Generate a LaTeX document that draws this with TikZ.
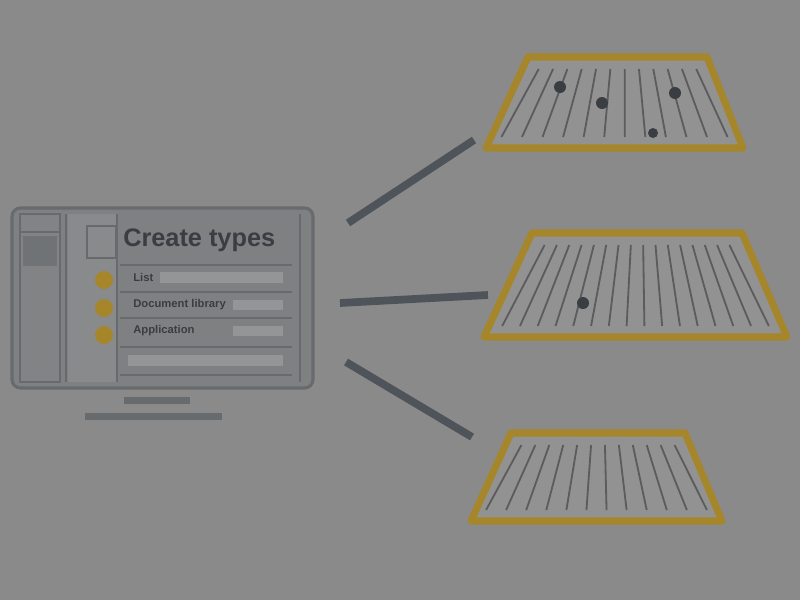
\documentclass[tikz,border=0pt]{standalone}
\usepackage{fontspec}
\setmainfont{Liberation Sans}
\usetikzlibrary{calc}

\definecolor{bggray}{RGB}{138,138,138}
\definecolor{framegray}{RGB}{104,107,110}
\definecolor{screengray}{RGB}{126,128,130}
\definecolor{bargray}{RGB}{148,149,150}
\definecolor{inkgray}{RGB}{58,62,66}
\definecolor{linkgray}{RGB}{78,84,90}
\definecolor{gold}{RGB}{166,134,42}
\definecolor{fieldgray}{RGB}{146,146,146}
\definecolor{seatgray}{RGB}{92,92,94}

% one stand of seats: name of the corners, number of rows
\newcommand{\seating}[2]{%
  \draw[field] (#1-tl) -- (#1-tr) -- (#1-br) -- (#1-bl) -- cycle;
  \foreach \i in {1,...,#2} {
    \pgfmathsetmacro\t{0.06+0.88*(\i-1)/(#2-1)}
    \draw[seat] ($(#1-tl)!\t!(#1-tr)+(0,12)$) -- ($(#1-bl)!\t!(#1-br)+(0,-11)$);
  }
}

\begin{document}
\begin{tikzpicture}[x=0.025cm,y=-0.025cm,
    frame/.style={draw=framegray, line width=2.2pt},
    thin frame/.style={draw=framegray, line width=1.2pt},
    bar/.style={fill=bargray},
    row/.style={draw=framegray, line width=1pt},
    link/.style={draw=linkgray, line width=5.5pt},
    field/.style={draw=gold, line width=5pt, line join=round, fill=fieldgray},
    seat/.style={draw=seatgray, line width=1.3pt},
    item/.style={anchor=west, inner sep=0pt, text=inkgray, font=\fontsize{8}{9}\selectfont\bfseries}]

    \fill[bggray] (0,0) rectangle (800,600);

    % monitor
    \draw[frame, rounded corners=6, fill=screengray] (12,208) rectangle (313,388);
    \draw[thin frame, fill=screengray!85!bargray] (20,214) rectangle (60,382);
    \fill[screengray!80!inkgray] (23,236) rectangle (57,266);
    \draw[thin frame] (20,232) -- (60,232);
    \fill[screengray!50!bargray] (68,214) rectangle (116,382);
    \draw[thin frame] (66,214) -- (66,382);
    \draw[thin frame] (117,214) -- (117,382);
    \draw[thin frame] (300,214) -- (300,382);
    \draw[thin frame, fill=screengray!50!bargray] (87,226) rectangle (116,258);

    \node[anchor=west, inner sep=0pt, text=inkgray, font=\fontsize{18}{20}\selectfont\bfseries]
        (title) at (123,240) {Create types};

    \foreach \y in {265,292,318,347,375}
        \draw[row] (120,\y) -- (292,\y);

    \fill[bar] (160,272) rectangle (283,283);
    \fill[bar] (233,300) rectangle (283,310);
    \fill[bar] (233,326) rectangle (283,336);
    \fill[bar] (128,355) rectangle (283,366);

    \node[item] (list) at (133,277) {List};
    \node[item] (doc) at (133,305) {Document library};
    \node[item] (app) at (133,331) {Application};

    \foreach \y in {280,308,335}
        \fill[gold] (104,\y) circle (9);

    \fill[framegray] (124,397) rectangle (190,404);
    \fill[framegray] (85,413) rectangle (222,420);

    % stands
    \coordinate (f1-tl) at (528,57);
    \coordinate (f1-tr) at (707,57);
    \coordinate (f1-br) at (743,148);
    \coordinate (f1-bl) at (486,148);
    \coordinate (f2-tl) at (532,233);
    \coordinate (f2-tr) at (742,233);
    \coordinate (f2-br) at (787,337);
    \coordinate (f2-bl) at (484,337);
    \coordinate (f3-tl) at (511,433);
    \coordinate (f3-tr) at (685,433);
    \coordinate (f3-br) at (722,521);
    \coordinate (f3-bl) at (471,521);

    \seating{f1}{12}
    \seating{f2}{16}
    \seating{f3}{12}

    \fill[inkgray] (560,87) circle (6);
    \fill[inkgray] (602,103) circle (6);
    \fill[inkgray] (675,93) circle (6);
    \fill[inkgray] (653,133) circle (5);
    \fill[inkgray] (583,303) circle (6);

    % links
    \coordinate (m1) at (348,223);
    \coordinate (m2) at (340,303);
    \coordinate (m3) at (346,362);
    \coordinate (s1) at (474,140);
    \coordinate (s2) at (488,295);
    \coordinate (s3) at (472,437);

    \draw[link] (m1) -- (s1);
    \draw[link] (m2) -- (s2);
    \draw[link] (m3) -- (s3);
\end{tikzpicture}
\end{document}
